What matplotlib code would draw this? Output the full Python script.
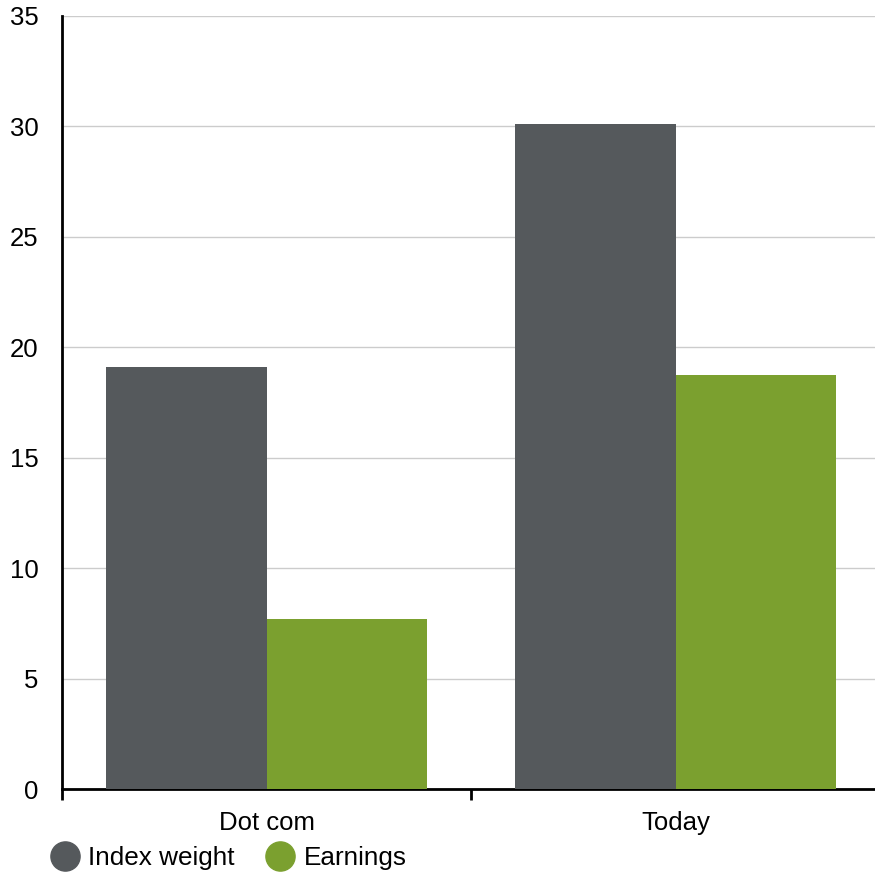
import numpy as np
import matplotlib.pyplot as plt
from matplotlib.lines import Line2D

plt.rcParams['font.family'] = ['Liberation Sans', 'DejaVu Sans']

categories = ['Dot com', 'Today']
index_weight = [19.1, 30.1]
earnings = [7.7, 18.75]
series_names = ['Index weight', 'Earnings']
colors = ['#55595c', '#7ba02f']

fig = plt.figure(figsize=(8.75, 8.73), dpi=100)
ax = fig.add_axes([0.0709, 0.0962, 0.9349, 0.8855])

x = np.arange(len(categories))
w = 0.392
ax.bar(x - w / 2, index_weight, width=w, color=colors[0], zorder=3)
ax.bar(x + w / 2, earnings, width=w, color=colors[1], zorder=3)

ax.set_xlim(-0.5, len(categories) - 0.5)
ax.set_ylim(0, 35)
ax.set_yticks(np.arange(0, 36, 5))
ax.yaxis.grid(True, color='#cccccc', linewidth=1)
ax.set_axisbelow(True)

# boundary ticks between categories, labels centered
ax.set_xticks(np.arange(-0.5, len(categories), 1.0))
ax.set_xticklabels([])
ax.set_xticks(x, minor=True)
ax.set_xticklabels(categories, minor=True)
ax.tick_params(axis='x', which='major', length=8, width=2, direction='out')
ax.tick_params(axis='x', which='minor', length=0, pad=16, labelsize=18.5)
ax.tick_params(axis='y', length=0, pad=17, labelsize=18.5)

for s in ['top', 'right']:
    ax.spines[s].set_visible(False)
ax.spines['left'].set_linewidth(2)
ax.spines['bottom'].set_linewidth(2)

handles = [Line2D([], [], marker='o', linestyle='none', markersize=21,
                  markerfacecolor=c, markeredgecolor=c) for c in colors]
fig.legend(handles, series_names, loc='center left', bbox_to_anchor=(0.044, 0.017),
           ncol=2, frameon=False, fontsize=18.8, handletextpad=0.3,
           columnspacing=1.15, handlelength=1.2, borderaxespad=0)

fig.savefig('out.png', dpi=100)
